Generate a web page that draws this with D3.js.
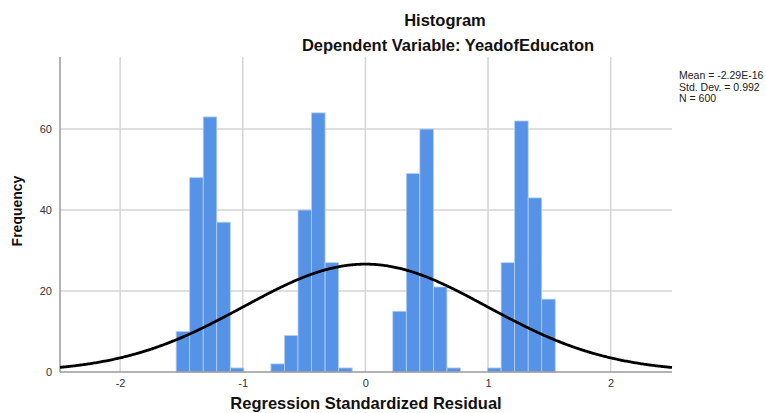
<!DOCTYPE html>
<html>
<head>
<meta charset="utf-8">
<script src="https://cdn.jsdelivr.net/npm/d3@7/dist/d3.min.js"></script>
<style>
  html, body { margin: 0; padding: 0; background: #ffffff; }
  svg { display: block; font-family: "Liberation Sans", Arial, sans-serif; }
</style>
</head>
<body>
<svg id="chart" width="766" height="413"></svg>
<script>
// Histogram bins (regression standardized residuals)
const binStart = -1.543;
const binWidth = 0.1104;
const binCounts = [
  10, 48, 63, 37, 1,
  0, 0,
  2, 9, 40, 64, 27, 1,
  0, 0, 0,
  15, 49, 60, 21, 1,
  0, 0,
  1, 27, 62, 43, 18
];

// Summary statistics for the normal curve
const statMean = -2.29e-16;
const statSd = 0.992;
const statN = 600;

const xTicks = [-2, -1, 0, 1, 2];
const yTicks = [0, 20, 40, 60];
const legendLines = ["Mean = -2.29E-16", "Std. Dev. = 0.992", "N = 600"];

const svg = d3.select("#chart");
const plot = { left: 60, right: 672, top: 57, bottom: 372 };

const x = d3.scaleLinear().domain([-2.49, 2.5]).range([plot.left, plot.right]);
const y = d3.scaleLinear().domain([0, 77.8]).range([plot.bottom, plot.top]);

// grid lines
const grid = svg.append("g");
grid.selectAll("line.v").data(xTicks).join("line")
  .attr("x1", d => x(d)).attr("x2", d => x(d))
  .attr("y1", plot.top).attr("y2", plot.bottom)
  .attr("stroke", "#d4d4d4").attr("stroke-width", 1.5);
grid.selectAll("line.h").data(yTicks.filter(d => d > 0)).join("line")
  .attr("x1", plot.left).attr("x2", plot.right)
  .attr("y1", d => y(d)).attr("y2", d => y(d))
  .attr("stroke", "#d4d4d4").attr("stroke-width", 1.5);

// bars
const bins = binCounts.map((c, i) => ({ x0: binStart + i * binWidth, x1: binStart + (i + 1) * binWidth, count: c }));
svg.append("g").selectAll("rect").data(bins.filter(b => b.count > 0)).join("rect")
  .attr("x", d => x(d.x0))
  .attr("width", d => x(d.x1) - x(d.x0))
  .attr("y", d => y(d.count))
  .attr("height", d => y(0) - y(d.count))
  .attr("fill", "#5693e6")
  .attr("stroke", "#b4cff3")
  .attr("stroke-width", 0.8);

// axes
const fmt = d => String(d);
const xAxis = svg.append("g").attr("transform", `translate(0,${plot.bottom})`)
  .call(d3.axisBottom(x).tickValues(xTicks).tickSize(0).tickPadding(7).tickFormat(fmt));
xAxis.select(".domain").attr("stroke", "#9a9a9a").attr("stroke-width", 1.5)
  .attr("d", `M${plot.left},0H${plot.right}`);
xAxis.selectAll("text").attr("font-size", 11).attr("fill", "#333").attr("font-family", "Liberation Sans, Arial, sans-serif");

const yAxis = svg.append("g").attr("transform", `translate(${plot.left},0)`)
  .call(d3.axisLeft(y).tickValues(yTicks).tickSize(0).tickPadding(8).tickFormat(fmt));
yAxis.select(".domain").attr("stroke", "#9a9a9a").attr("stroke-width", 1.5)
  .attr("d", `M0,${plot.top}V${plot.bottom}`);
yAxis.selectAll("text").attr("font-size", 11).attr("fill", "#333").attr("font-family", "Liberation Sans, Arial, sans-serif");

// normal curve
const curveX = d3.range(-2.49, 2.5001, 0.01);
const density = v => statN * binWidth * Math.exp(-0.5 * ((v - statMean) / statSd) ** 2) / (statSd * Math.sqrt(2 * Math.PI));
const clipId = "plotClip";
svg.append("clipPath").attr("id", clipId).append("rect")
  .attr("x", plot.left).attr("y", plot.top - 5)
  .attr("width", plot.right - plot.left + 2).attr("height", plot.bottom - plot.top + 5);
svg.append("path")
  .datum(curveX)
  .attr("clip-path", `url(#${clipId})`)
  .attr("fill", "none").attr("stroke", "#000").attr("stroke-width", 2.8)
  .attr("d", d3.line().x(d => x(d)).y(d => y(density(d))).curve(d3.curveBasis));

// titles
svg.append("text").attr("x", 445).attr("y", 26).attr("text-anchor", "middle")
  .attr("font-size", 16.5).attr("font-weight", "bold").attr("fill", "#111").text("Histogram");
svg.append("text").attr("x", 448).attr("y", 51).attr("text-anchor", "middle")
  .attr("font-size", 16.5).attr("font-weight", "bold").attr("fill", "#111").text("Dependent Variable: YeadofEducaton");

// axis titles
svg.append("text").attr("x", 366).attr("y", 408.5).attr("text-anchor", "middle")
  .attr("font-size", 16.5).attr("font-weight", "bold").attr("fill", "#111").text("Regression Standardized Residual");
svg.append("text").attr("transform", "translate(22,211) rotate(-90)").attr("text-anchor", "middle")
  .attr("font-size", 14).attr("font-weight", "bold").attr("fill", "#111").text("Frequency");

// statistics legend
svg.append("g").selectAll("text").data(legendLines).join("text")
  .attr("x", 679).attr("y", (d, i) => 79 + i * 11.5)
  .attr("font-size", 10.5).attr("fill", "#222").text(d => d);
</script>
</body>
</html>
